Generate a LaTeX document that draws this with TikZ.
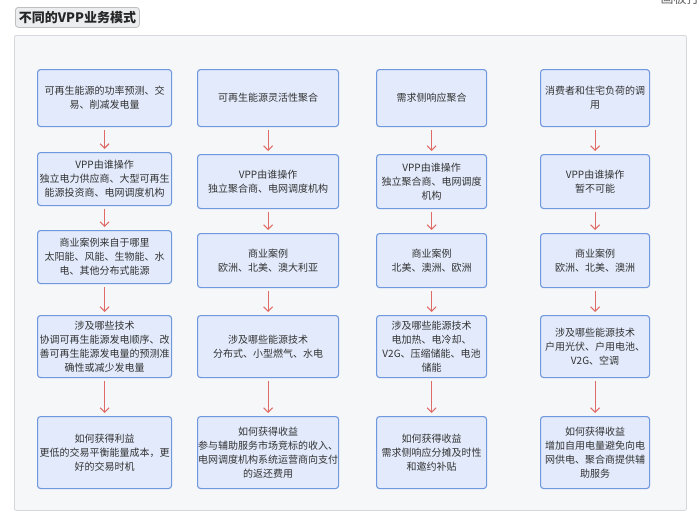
\documentclass[tikz,border=0pt]{standalone}
\usepackage{fontspec}
\setmainfont{Noto Sans CJK SC}
\usepackage{xcolor}
\usepackage{tikz}
\usetikzlibrary{arrows.meta}
\definecolor{vpedge}{RGB}{112,152,222}
\definecolor{vpfill}{RGB}{226,234,251}
\definecolor{vparr}{RGB}{224,106,102}
\definecolor{vpbg}{RGB}{246,247,249}
\definecolor{vpframe}{RGB}{212,215,220}
\definecolor{vptitle}{RGB}{236,237,239}
\definecolor{vpink}{RGB}{51,51,51}
\tikzset{
  vpbox/.style={
    draw=vpedge, fill=vpfill, line width=1.1pt, rounded corners=3pt,
    align=center, inner sep=0.5pt, font=\fontsize{10}{14}\selectfont,
    text=vpink, anchor=north west
  },
  head/.style={vpbox, minimum height=57pt},
  arr/.style={-{Straight Barb[length=4.5pt,width=9pt]}, draw=vparr, line width=1.1pt,
    shorten <=3pt, shorten >=3pt},
  grp/.style={draw=vpframe, fill=vpbg, line width=0.8pt, rounded corners=2pt,
    anchor=north west, inner sep=0pt},
  ttl/.style={draw=black!25, fill=vptitle, rounded corners=3pt, line width=0.8pt,
    anchor=north west, inner sep=0pt, font=\fontsize{13}{15}\selectfont\bfseries,
    text=black!85},
  anno/.style={font=\fontsize{13}{15}\selectfont, text=black!60}
}

\begin{document}
\begin{tikzpicture}[x=1pt, y=-1pt]
  \useasboundingbox[fill=white] (0,0) rectangle (700,522);
  \node[anno, anchor=base west] (board) at (657,3) {画板打开};
  \node[ttl, minimum width=124pt, minimum height=20pt] (title) at (15,7)
    {不同的VPP业务模式};
  \node[grp, minimum width=672pt, minimum height=475pt] (frame) at (14,35) {};
  % POWER FORECAST
  \node[head, minimum width=134pt] (ph) at (37,69)
    {可再生能源的功率预测、交\\易、削减发电量};
  \node[vpbox, minimum width=134pt, minimum height=53pt] (po) at (37,152)
    {VPP由谁操作\\独立电力供应商、大型可再生\\能源投资商、电网调度机构};
  \node[vpbox, minimum width=134pt, minimum height=53pt] (pc) at (37,230)
    {商业案例来自于哪里\\太阳能、风能、生物能、水\\电、其他分布式能源};
  \node[vpbox, minimum width=134pt, minimum height=62pt] (pt) at (37,315)
    {涉及哪些技术\\协调可再生能源发电顺序、改\\善可再生能源发电量的预测准\\确性或减少发电量};
  \node[vpbox, minimum width=134pt, minimum height=72pt] (pg) at (37,416)
    {如何获得利益\\更低的交易平衡能量成本，更\\好的交易时机};
  % FLEXIBILITY
  \node[head, minimum width=141pt] (fh) at (197,69)
    {可再生能源灵活性聚合};
  \node[vpbox, minimum width=141pt, minimum height=54pt] (fo) at (197,154)
    {VPP由谁操作\\独立聚合商、电网调度机构};
  \node[vpbox, minimum width=141pt, minimum height=54pt] (fc) at (197,233)
    {商业案例\\欧洲、北美、澳大利亚};
  \node[vpbox, minimum width=141pt, minimum height=62pt] (ft) at (197,315)
    {涉及哪些能源技术\\分布式、小型燃气、水电};
  \node[vpbox, minimum width=141pt, minimum height=72pt] (fg) at (197,416)
    {如何获得收益\\参与辅助服务市场竞标的收入、\\电网调度机构系统运营商向支付\\的返还费用};
  % DEMAND RESPONSE
  \node[head, minimum width=110pt] (dh) at (376,69)
    {需求侧响应聚合};
  \node[vpbox, minimum width=110pt, minimum height=54pt] (do) at (376,154)
    {VPP由谁操作\\独立聚合商、电网调度\\机构};
  \node[vpbox, minimum width=110pt, minimum height=54pt] (dc) at (376,233)
    {商业案例\\北美、澳洲、欧洲};
  \node[vpbox, minimum width=110pt, minimum height=62pt] (dt) at (376,315)
    {涉及哪些能源技术\\电加热、电冷却、\\V2G、压缩储能、电池\\储能};
  \node[vpbox, minimum width=110pt, minimum height=72pt] (dg) at (376,416)
    {如何获得收益\\需求侧响应分摊及时性\\和邀约补贴};
  % HOUSEHOLD
  \node[head, minimum width=109pt] (hh) at (540,69)
    {消费者和住宅负荷的调\\用};
  \node[vpbox, minimum width=109pt, minimum height=54pt] (ho) at (540,154)
    {VPP由谁操作\\暂不可能};
  \node[vpbox, minimum width=109pt, minimum height=54pt] (hc) at (540,233)
    {商业案例\\欧洲、北美、澳洲};
  \node[vpbox, minimum width=109pt, minimum height=62pt] (ht) at (540,315)
    {涉及哪些能源技术\\户用光伏、户用电池、\\V2G、空调};
  \node[vpbox, minimum width=109pt, minimum height=72pt] (hg) at (540,416)
    {如何获得收益\\增加自用电量避免向电\\网供电、聚合商提供辅\\助服务};
  % arrows
  \draw[arr] (ph) -- (po);
  \draw[arr] (po) -- (pc);
  \draw[arr] (pc) -- (pt);
  \draw[arr] (pt) -- (pg);
  \draw[arr] (fh) -- (fo);
  \draw[arr] (fo) -- (fc);
  \draw[arr] (fc) -- (ft);
  \draw[arr] (ft) -- (fg);
  \draw[arr] (dh) -- (do);
  \draw[arr] (do) -- (dc);
  \draw[arr] (dc) -- (dt);
  \draw[arr] (dt) -- (dg);
  \draw[arr] (hh) -- (ho);
  \draw[arr] (ho) -- (hc);
  \draw[arr] (hc) -- (ht);
  \draw[arr] (ht) -- (hg);
\end{tikzpicture}
\end{document}
